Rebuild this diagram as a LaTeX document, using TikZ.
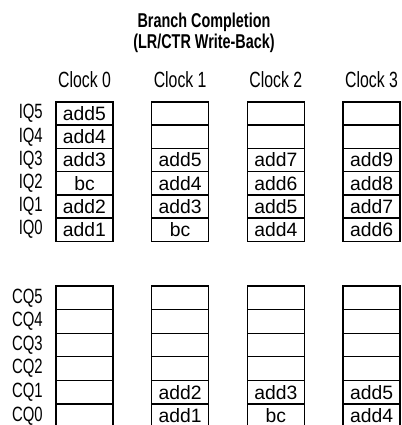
\documentclass[tikz,border=0pt]{standalone}
\usepackage{fontspec}
\setmainfont{Liberation Sans}
\newfontfamily\condfont[FakeStretch=0.72]{Liberation Sans}
\usetikzlibrary{positioning}

\tikzset{
    cell/.style={draw, line width=1pt, rectangle, inner sep=0pt,
        minimum width=42.75pt, minimum height=17.5pt,
        font=\fontsize{14.5}{16}\selectfont},
    qlabel/.style={anchor=east, inner sep=0pt, font=\condfont\fontsize{15.5}{17}\selectfont},
    clocklabel/.style={inner sep=0pt, font=\condfont\fontsize{16.5}{18}\selectfont},
    titletext/.style={align=center, inner sep=0pt, font=\condfont\bfseries\fontsize{15}{16}\selectfont}
}

\begin{document}
\begin{tikzpicture}[x=0.75pt, y=-0.75pt]
    \useasboundingbox (0,0) rectangle (402,425);

    \node[titletext] (title) at (204,33) {Branch Completion\\(LR/CTR Write-Back)};

    % clock headings
    \foreach \c in {0,1,2,3}
        \node[clocklabel] (clock\c) at (84.5+95.67*\c,80) {Clock \c};

    % queue row labels
    \foreach \r in {0,...,5} {
        \node[qlabel] (iqlab\r) at (43,113.6+23.2*5-23.2*\r) {IQ\r};
        \node[qlabel] (cqlab\r) at (43,297.8+23.6*5-23.6*\r) {CQ\r};
    }

    % instruction queue, listed from IQ0 up to IQ5
    \foreach \c/\entries in {0/{add1,add2,bc,add3,add4,add5},
                             1/{bc,add3,add4,add5,{},{}},
                             2/{add4,add5,add6,add7,{},{}},
                             3/{add6,add7,add8,add9,{},{}}}
        \foreach \t [count=\i from 0] in \entries
            \node[cell] (iq\c\i) at (84.5+95.67*\c,113.6+23.2*5-23.2*\i) {\t};

    % completion queue, listed from CQ0 up to CQ5
    \foreach \c/\entries in {0/{{},{},{},{},{},{}},
                             1/{add1,add2,{},{},{},{}},
                             2/{bc,add3,{},{},{},{}},
                             3/{add4,add5,{},{},{},{}}}
        \foreach \t [count=\i from 0] in \entries
            \node[cell, minimum height=17.7pt] (cq\c\i) at (84.5+95.67*\c,297.8+23.6*5-23.6*\i) {\t};
\end{tikzpicture}
\end{document}
